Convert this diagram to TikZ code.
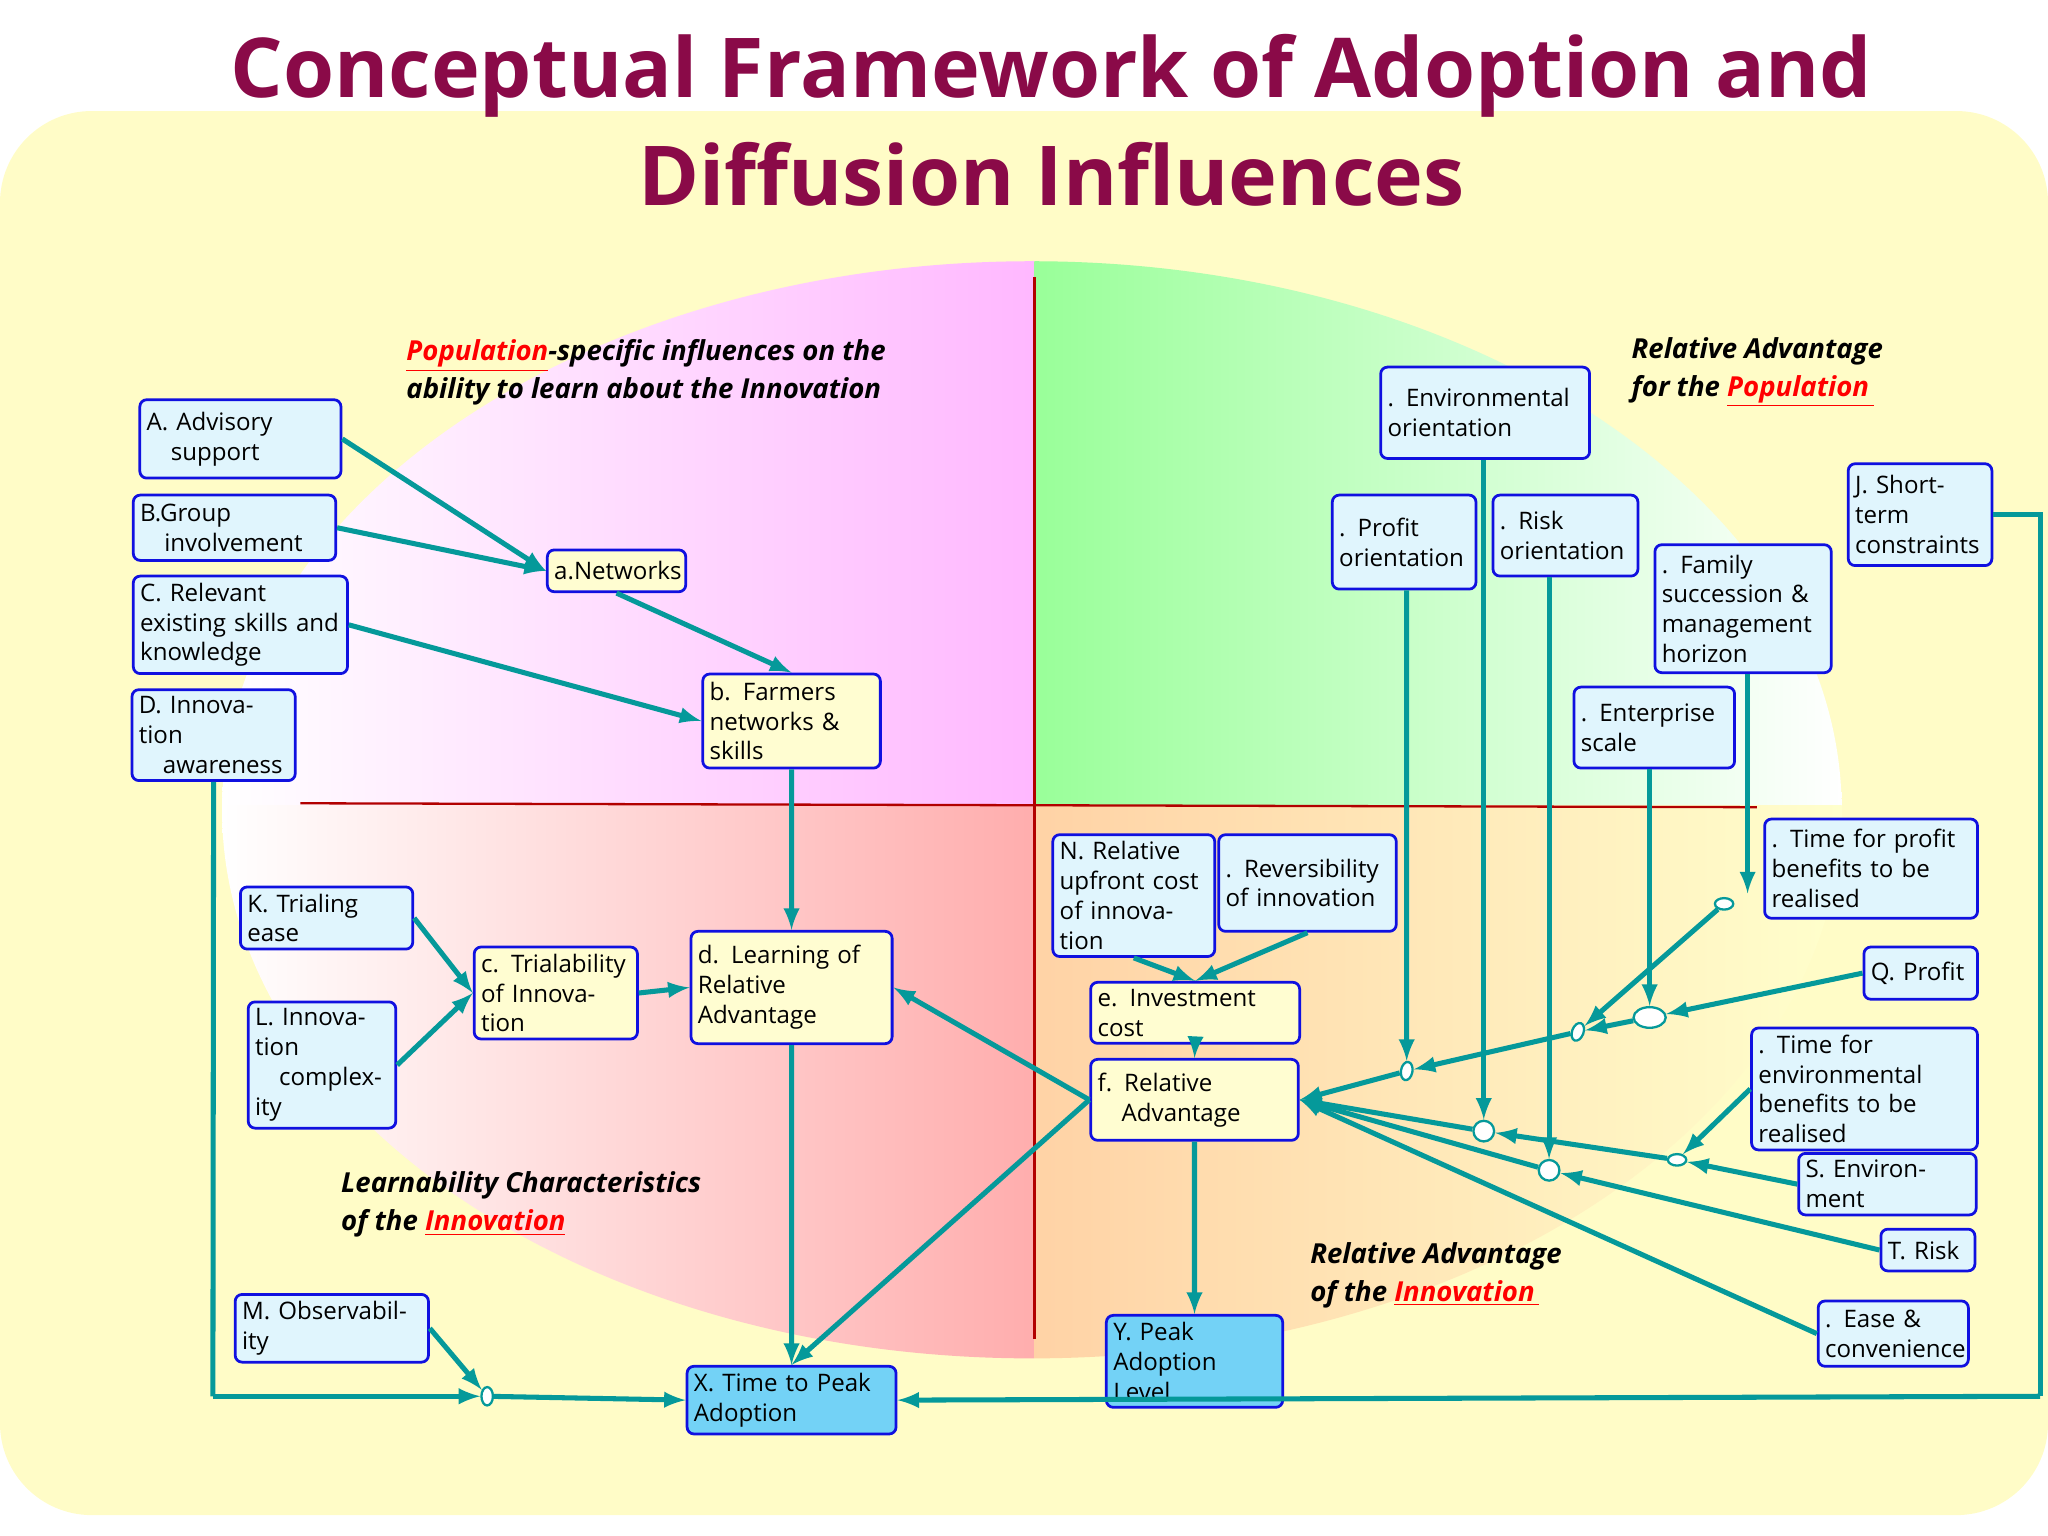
\documentclass[tikz,border=0pt]{standalone}
\usepackage{fontspec}
\setmainfont{Open Sans}
\usetikzlibrary{shapes.geometric}
\definecolor{teal1}{HTML}{05999A}
\definecolor{boxline}{HTML}{1010E0}
\definecolor{titlecol}{HTML}{8A0A48}
\tikzset{
  box/.style 2 args={draw=boxline,line width=1.2pt,rounded corners=3pt,anchor=north west,align=left,inner sep=3pt,
    font=\fontsize{10.5}{13}\selectfont,fill=cyan!12,text width=\dimexpr#1cm-6pt\relax,minimum height=#2cm},
  ybox/.style 2 args={box={#1}{#2},fill=yellow!18},
  bbox/.style 2 args={box={#1}{#2},fill=cyan!55},
  link/.style={draw=teal1,line width=2.2pt,-latex},
  plain/.style={draw=teal1,line width=2.2pt},
  jn/.style={draw=teal1,fill=white,ellipse,line width=1pt,inner sep=0pt,minimum width=8pt,minimum height=5pt},
  lbl/.style={anchor=north west,align=left,font=\fontsize{12}{16.5}\selectfont\bfseries\itshape},
}
\newcommand{\pop}[1]{\textcolor{red}{\underline{#1}}}
\begin{document}
\begin{tikzpicture}[x=0.02cm,y=-0.02cm]
\useasboundingbox (0,0) rectangle (1568,1176);

% background
\fill[yellow!22,rounded corners=40pt] (0,85) rectangle (1568,1160);
\begin{scope}
\clip (790,620) ellipse [x radius=620,y radius=420];
\shade[left color=white,right color=magenta!28] (170,200) rectangle (792,617);
\shade[left color=green!40,right color=white] (792,200) rectangle (1410,617);
\shade[left color=white,right color=red!32] (170,617) rectangle (792,1040);
\shade[left color=orange!35,right color=yellow!20] (792,617) rectangle (1410,1040);
\end{scope}
\draw[red!70!black,line width=1pt] (792,212) -- (792,1025);
\draw[red!70!black,line width=1pt] (230,615) -- (1345,618);

% title
\node (title) at (805,92) [align=center,text=titlecol,font=\fontsize{36}{47}\selectfont\bfseries] {Conceptual Framework of Adoption and\\Diffusion Influences};

% labels
\node (lpop) at (305,254) [lbl] {\pop{Population}-specific influences on the\\ability to learn about the Innovation};
\node (lrap) at (1243,252) [lbl] {Relative Advantage\\for the \pop{Population\,}};
\node (llc) at (255,891) [lbl] {Learnability Characteristics\\of the \pop{Innovation}};
\node (lrai) at (997,945) [lbl] {Relative Advantage\\of the \pop{Innovation\,}};

% left boxes
\node (A) at (106,305) [box={3.08}{1.2}] {A. Advisory\\\ \ \ support};
\node (B) at (101,378) [box={3.1}{1}] {B.Group\\\ \ \ involvement};
\node (C) at (101,440) [box={3.28}{1.48}] {C. Relevant\\existing skills and\\knowledge};
\node (D) at (100,527) [box={2.5}{0.96}] {D. Innovation\\\ \ \ awareness};
\node (a) at (418,420) [ybox={2.12}{0.64}] {a.Networks};
\node (b) at (537,515) [ybox={2.72}{1.44}] {b. Farmers\\networks \&\\skills};
\node (K) at (183,678) [box={2.64}{0.68}] {K. Trialing ease};
\node (L) at (189,766) [box={2.26}{0.92}] {L. Innovation\\\ \ \ complexity};
\node (c) at (362,724) [ybox={2.5}{1.24}] {c. Trialability\\of Innovation};
\node (d) at (528,712) [ybox={3.08}{1.72}] {d. Learning of\\Relative\\Advantage};
\node (M) at (179,990) [box={2.96}{0.8}] {M. Observability};
\node (X) at (525,1045) [bbox={3.2}{0.96}] {X. Time to Peak\\Adoption};

% right boxes
\node (Env) at (1056,280) [box={3.2}{1.4}] {. Environmental\\orientation};
\node (Prof) at (1019,378) [box={2.2}{1.44}] {. Profit\\orientation};
\node (Risk) at (1142,378) [box={2.22}{1.24}] {. Risk\\orientation};
\node (J) at (1414,354) [box={2.2}{1.56}] {J. Short-\\term\\constraints};
\node (Fam) at (1266,416) [box={2.7}{1.96}] {. Family\\succession \&\\management\\horizon};
\node (Ent) at (1204,525) [box={2.46}{1.24}] {. Enterprise\\scale};
\node (N) at (805,638) [box={2.48}{1.48}] {N. Relative\\upfront cost\\of innovation};
\node (Rev) at (932,638) [box={2.72}{1.48}] {. Reversibility\\of innovation};
\node (e) at (834,751) [ybox={3.2}{0.72}] {e. Investment cost};
\node (f) at (834,810) [ybox={3.18}{1.24}] {f. Relative\\\ \ \ Advantage};
\node (Y) at (846,1006) [bbox={2.7}{1}] {Y. Peak\\Adoption Level};
\node (TP) at (1350,626) [box={3.26}{1.52}] {. Time for profit\\benefits to be\\realised};
\node (Q) at (1426,724) [box={1.74}{0.8}] {Q. Profit};
\node (TE) at (1340,786) [box={3.46}{1.68}] {. Time for\\environmental\\benefits to be\\realised};
\node (S) at (1376,882) [box={2.72}{0.72}] {S. Environment};
\node (T) at (1439,940) [box={1.44}{0.64}] {T. Risk};
\node (Ease) at (1391,995) [box={2.3}{1}] {. Ease \&\\convenience};

% junctions
\node (j1) at (1320,692) [jn] {};
\node (j2) at (1263,779) [jn,minimum width=14pt,minimum height=9pt] {};
\node (j3) at (1208,790) [jn,rotate=70] {};
\node (j4) at (1077,820) [jn,rotate=80] {};
\node (j5) at (1136,866) [jn,minimum width=9pt,minimum height=9pt] {};
\node (j6) at (1186,896) [jn,minimum width=9pt,minimum height=9pt] {};
\node (j7) at (1284,888) [jn] {};
\node (j8) at (373,1069) [jn,rotate=90] {};
\coordinate (cD) at (163,1069);
\coordinate (cJ2) at (1562,1069);
\coordinate (cJ1) at (J.east -| cJ2);

% left connectors
\draw [link] (A.east) -- (a.west);
\draw [link] (B.east) -- (a.west);
\draw [link] (a.south) -- (b.north);
\draw [link] (C.east) -- (b.west);
\draw [link] (b.south) -- (d.north);
\draw [link] (K.east) -- (c.west);
\draw [link] (L.east) -- (c.west);
\draw [link] (c.east) -- (d.west);
\draw [link] (d.south) -- (X.north);
\draw [link] (f.west) -- (d.east);
\draw [link] (f.west) -- (X.north);
\draw [plain] (D.south) -- (cD);
\draw [link] (cD) -- (j8);
\draw [link] (M.east) -- (j8);
\draw [link] (j8) -- (X.west);

% right connectors
\draw [link] (N.south) -- (e.north);
\draw [link] (Rev.south) -- (e.north);
\draw [link] (e.south) -- (f.north);
\draw [link] (f.south) -- (Y.north);
\draw [link] (Prof.south -| j4) -- (j4);
\draw [link] (Env.south -| j5) -- (j5);
\draw [link] (Risk.south -| j6) -- (j6);
\draw [link] (Fam.south -| 1338,0) -- (1338,684);
\draw [link] (j1) -- (j3);
\draw [link] (Ent.south -| j2) -- (j2);
\draw [link] (Q.west) -- (j2);
\draw [link] (j2) -- (j3);
\draw [link] (j3) -- (j4);
\draw [link] (j4) -- (f.east);
\draw [link] (TE.west) -- (j7);
\draw [link] (S.west) -- (j7);
\draw [link] (j7) -- (j5);
\draw [link] (j5) -- (f.east);
\draw [link] (T.west) -- (j6);
\draw [link] (j6) -- (f.east);
\draw [link] (Ease.west) -- (f.east);
\draw [plain] (J.east) -- (cJ1) -- (cJ2);
\draw [link] (cJ2) -- (X.east);

\end{tikzpicture}
\end{document}
